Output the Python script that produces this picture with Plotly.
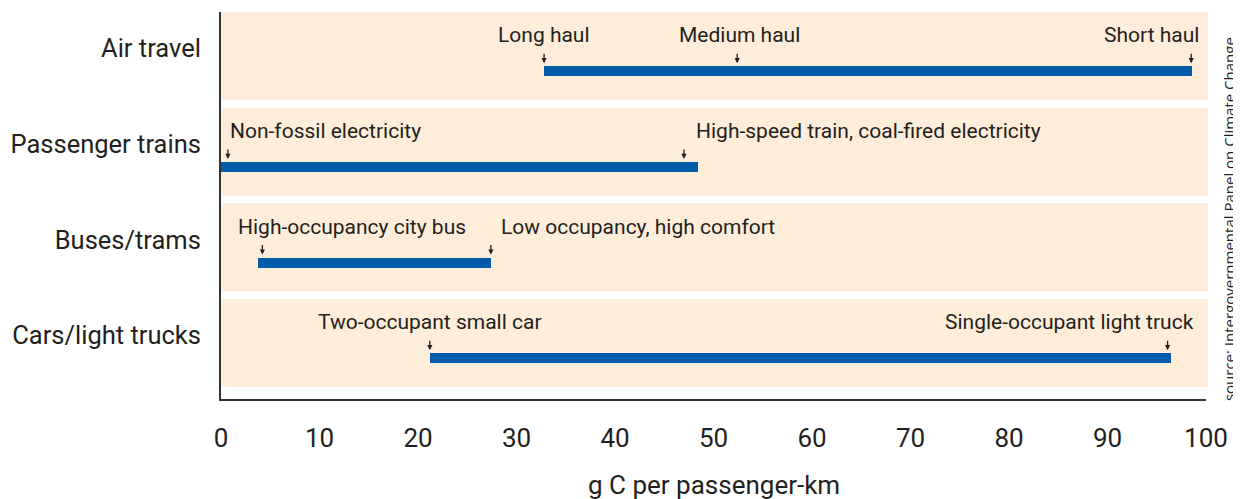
import plotly.graph_objects as go

# ---------------- data ----------------
categories = ["Air travel", "Passenger trains", "Buses/trams", "Cars/light trucks"]
range_low = [32.8, 0.0, 3.8, 21.2]
range_high = [98.6, 48.4, 27.4, 96.4]

# annotated points: (category index, value, label)
point_cat = [0, 0, 0, 1, 1, 2, 2, 3, 3]
point_val = [32.8, 52.4, 98.5, 0.7, 47.0, 4.2, 27.4, 21.2, 96.1]
point_label = ["Long haul", "Medium haul", "Short haul",
               "Non-fossil electricity", "High-speed train, coal-fired electricity",
               "High-occupancy city bus", "Low occupancy, high comfort",
               "Two-occupant small car", "Single-occupant light truck"]

x_ticks = [0, 10, 20, 30, 40, 50, 60, 70, 80, 90, 100]
x_title = "g C per passenger-km"
source = "source: Intergovernmental Panel on Climate Change"

# ---------------- style ----------------
FONT = "Roboto"
TEXT = "#231F20"
BAR = "#005BAA"
BAND = "#FEEDD8"
label_anchor = ["center", "center", "right", "left", "left", "left", "left", "center", "right"]
label_xshift = [0, 2, 10, 0, 10, -26, 8, 0, 28]

n = len(categories)
ypos = [n - 1 - i for i in range(n)]  # top to bottom
bar_off = -0.16

fig = go.Figure()
fig.add_trace(go.Bar(
    y=[y + bar_off for y in ypos],
    x=[h - l for l, h in zip(range_low, range_high)],
    base=range_low,
    orientation="h",
    width=0.105,
    marker=dict(color=BAR, line=dict(width=0)),
    hoverinfo="skip",
    showlegend=False,
))

shapes = []
for y in ypos:
    shapes.append(dict(type="rect", xref="paper", yref="y", x0=0, x1=1.002,
                       y0=y - 0.46, y1=min(y + 0.46, 3.46), fillcolor=BAND,
                       line=dict(width=0), layer="below"))

annotations = []
for c, v, lab, anc, xs in zip(point_cat, point_val, point_label, label_anchor, label_xshift):
    yb = ypos[c] + bar_off + 0.053
    annotations.append(dict(x=v, y=yb, xref="x", yref="y", text="", showarrow=True,
                            ax=0, ay=-14, arrowhead=2, arrowsize=0.8, arrowwidth=1.3,
                            arrowcolor=TEXT, standoff=3))
    annotations.append(dict(x=v, y=yb, xref="x", yref="y", text=lab, showarrow=False,
                            xanchor=anc, yanchor="bottom", xshift=xs, yshift=17,
                            font=dict(family=FONT, size=21, color=TEXT)))

annotations.append(dict(x=0.5, y=-0.222, xref="paper", yref="paper", text=x_title,
                        showarrow=False, xanchor="center", yanchor="middle",
                        font=dict(family=FONT, size=26, color=TEXT)))
annotations.append(dict(x=1.0234, y=0.465, xref="paper", yref="paper", text=source,
                        showarrow=False, textangle=-90, xanchor="center", yanchor="middle",
                        font=dict(family="Open Sans", size=15, color=TEXT)))

# page body has an 8px margin: figure is sized/offset to compensate
fig.update_layout(
    width=1233, height=491,
    margin=dict(l=213, r=35, t=4, b=100, autoexpand=False),
    paper_bgcolor="white", plot_bgcolor="white",
    shapes=shapes, annotations=annotations,
    bargap=0,
)
fig.update_xaxes(range=[0, 100], tickvals=x_ticks, ticks="", showgrid=False,
                 zeroline=False, showline=True, linecolor="#333333", linewidth=2,
                 tickfont=dict(family=FONT, size=26, color=TEXT), ticklabelstandoff=15)
fig.update_yaxes(range=[-0.585, 3.46], tickvals=[y + 0.08 for y in ypos], ticktext=categories,
                 ticks="", showgrid=False, zeroline=False, showline=True,
                 linecolor="#333333", linewidth=2,
                 tickfont=dict(family=FONT, size=25.5, color=TEXT), ticklabelstandoff=13)

fig.write_html("out.html")
